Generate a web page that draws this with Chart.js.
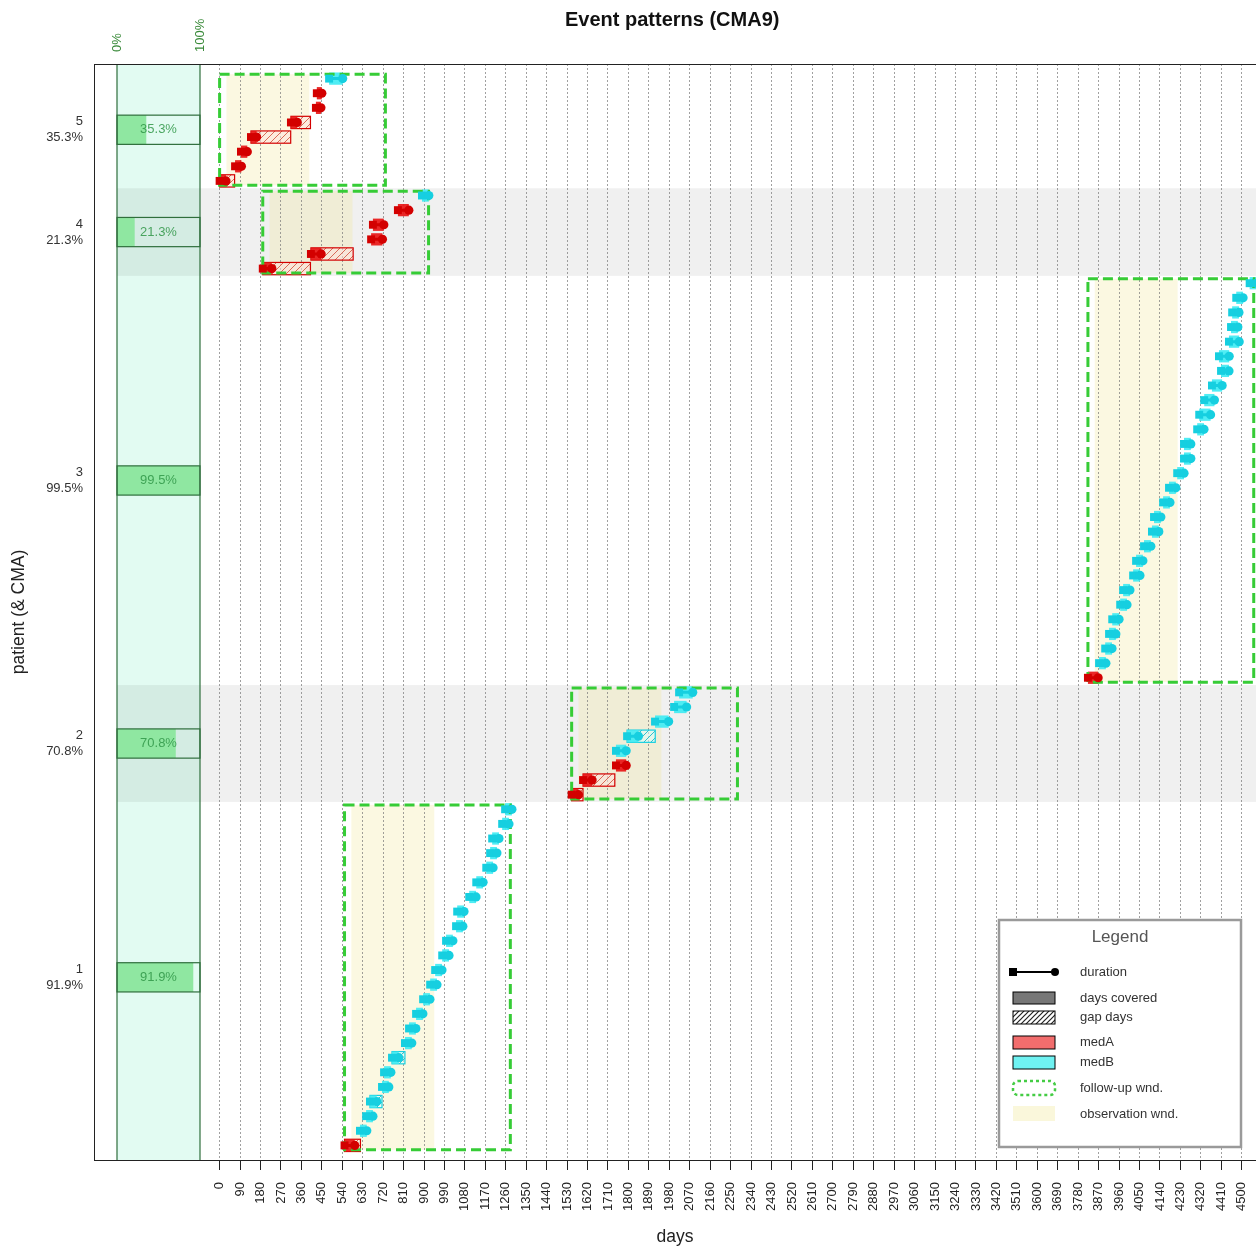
<!DOCTYPE html>
<html>
<head>
<meta charset="utf-8">
<title>Event patterns (CMA9)</title>
<script src="https://cdn.jsdelivr.net/npm/chart.js@4.4.1/dist/chart.umd.min.js"></script>
<style>
  html, body { margin: 0; padding: 0; background: #fff; }
  #wrap { width: 1256px; height: 1249px; }
</style>
</head>
<body>
<div id="wrap"><canvas id="cmaChart" width="1256" height="1249"></canvas></div>
<script>
// patients (bottom to top) and their CMA9 estimate in %
var patients = ['1', '2', '3', '4', '5'];
var cmaValues = [91.9, 70.8, 99.5, 21.3, 35.3];
var eventsPerPatient = [24, 8, 28, 6, 8];

// follow-up window start per patient (days), windows are 730 days long
var fuStart = [550, 1550, 3823, 190, 0];
var fuLength = 730;
// observation window relative to follow-up start
var obsOffset = 30;
var obsLength = 365;

// one entry per event, in plotting order (patient 1 first)
var eventStart = [
  550, 618, 645, 662, 715, 724, 759, 816, 834, 865, 896, 927, 949, 980, 997, 1041, 1046, 1099, 1130, 1174, 1191, 1200, 1244, 1257,
  1550, 1600, 1745, 1745, 1794, 1917, 2001, 2023,
  3823, 3872, 3899, 3916, 3930, 3965, 3978, 4022, 4035, 4070, 4105, 4114, 4154, 4180, 4216, 4246, 4246, 4304, 4313, 4335, 4369, 4409, 4400, 4444, 4453, 4458, 4476, 4535,
  190, 402, 667, 675, 785, 891,
  0, 68, 94, 138, 314, 424, 428, 482
];
var eventDuration = [
  45, 30, 30, 30, 30, 30, 30, 30, 30, 30, 30, 30, 30, 30, 30, 30, 30, 30, 30, 30, 30, 30, 30, 30,
  30, 40, 45, 45, 50, 60, 55, 60,
  45, 30, 30, 30, 30, 30, 30, 30, 30, 30, 30, 30, 30, 30, 30, 30, 30, 30, 50, 45, 45, 35, 45, 45, 30, 30, 30, 30,
  40, 45, 50, 48, 48, 30,
  28, 28, 28, 25, 28, 22, 22, 60
];
var eventMed = [
  'A', 'B', 'B', 'B', 'B', 'B', 'B', 'B', 'B', 'B', 'B', 'B', 'B', 'B', 'B', 'B', 'B', 'B', 'B', 'B', 'B', 'B', 'B', 'B',
  'A', 'A', 'A', 'B', 'B', 'B', 'B', 'B',
  'A', 'B', 'B', 'B', 'B', 'B', 'B', 'B', 'B', 'B', 'B', 'B', 'B', 'B', 'B', 'B', 'B', 'B', 'B', 'B', 'B', 'B', 'B', 'B', 'B', 'B', 'B', 'B',
  'A', 'A', 'A', 'A', 'A', 'B',
  'A', 'A', 'A', 'A', 'A', 'A', 'A', 'B'
];
// end of the event interval where gap days show (null = no gap)
var eventGapEnd = [
  620, null, null, 715, null, null, 816, null, null, null, null, null, null, null, null, null, null, null, null, null, null, null, null, null,
  1600, 1740, null, null, 1918, null, null, null,
  null, null, null, null, null, null, null, null, null, null, null, null, null, null, null, null, null, null, null, null, null, null, null, null, null, null, null, null,
  400, 588, null, null, null, null,
  66, null, null, 313, 400, null, null, null
];

var dayTicks = [0, 90, 180, 270, 360, 450, 540, 630, 720, 810, 900, 990, 1080, 1170, 1260, 1350, 1440, 1530, 1620, 1710,
  1800, 1890, 1980, 2070, 2160, 2250, 2340, 2430, 2520, 2610, 2700, 2790, 2880, 2970, 3060, 3150, 3240, 3330, 3420, 3510,
  3600, 3690, 3780, 3870, 3960, 4050, 4140, 4230, 4320, 4410, 4500];

var FONT = "'Liberation Sans', Arial, sans-serif";
var medLine = { A: '#d30000', B: '#16cfe0' };
var medFill = { A: 'rgba(232,22,22,0.92)', B: 'rgba(64,236,243,0.92)' };
var medHatch = { A: 'rgba(214,100,80,0.95)', B: 'rgba(40,190,205,0.95)' };
var medGapBg = { A: 'rgba(255,225,220,0.55)', B: 'rgba(220,255,255,0.55)' };

// rows
var rowFirst = [];
var totalRows = 0;
for (var p = 0; p < patients.length; p++) {
  rowFirst.push(totalRows);
  totalRows += eventsPerPatient[p];
}
var patientCenter = rowFirst.map(function (r, p) { return r + eventsPerPatient[p] / 2; });

function durationPoints(med) {
  var pts = [];
  for (var i = 0; i < eventStart.length; i++) {
    if (eventMed[i] !== med) continue;
    pts.push({ x: eventStart[i], y: i + 0.5, m: 'rect' });
    pts.push({ x: eventStart[i] + eventDuration[i], y: i + 0.5, m: 'circle' });
    pts.push({ x: eventStart[i] + eventDuration[i], y: null });
  }
  return pts;
}

function hatch(ctx, color, bg, step, width) {
  var c = document.createElement('canvas');
  c.width = step; c.height = step;
  var g = c.getContext('2d');
  if (bg) { g.fillStyle = bg; g.fillRect(0, 0, step, step); }
  g.strokeStyle = color;
  g.lineWidth = width;
  g.beginPath();
  g.moveTo(-1, step + 1); g.lineTo(step + 1, -1);
  g.moveTo(-step / 2 - 1, step / 2 + 1); g.lineTo(step / 2 + 1, -step / 2 - 1);
  g.moveTo(step / 2 - 1, step * 1.5 + 1); g.lineTo(step * 1.5 + 1, step / 2 - 1);
  g.stroke();
  return ctx.createPattern(c, 'repeat');
}

var adherePlot = {
  id: 'adherePlot',
  // the plot runs off the right edge of the picture, so stretch the area to the canvas edge
  afterLayout: function (chart) {
    var a = chart.chartArea, xs = chart.scales.x;
    if (a.right < chart.width) {
      a.right = chart.width;
      a.width = a.right - a.left;
      xs.right = chart.width;
      xs.width = xs.right - xs.left;
      xs.configure();
    }
  },
  beforeDraw: function (chart) {
    var c = chart.ctx, a = chart.chartArea, xs = chart.scales.x, ys = chart.scales.y;
    c.save();
    c.fillStyle = '#fff';
    c.fillRect(0, 0, chart.width, chart.height);

    var panelL = a.left + 23, panelR = a.left + 106;
    // CMA panel background
    c.fillStyle = '#e2fbf2';
    c.fillRect(panelL, a.top, panelR - panelL, a.bottom - a.top);

    // alternating patient bands
    for (var p = 0; p < patients.length; p++) {
      if (p % 2 === 1) {
        var yt = ys.getPixelForValue(rowFirst[p] + eventsPerPatient[p]);
        var yb = ys.getPixelForValue(rowFirst[p]);
        c.fillStyle = 'rgba(0,0,0,0.058)';
        c.fillRect(panelL, yt, a.right - panelL, yb - yt);
      }
    }
    // observation windows
    for (p = 0; p < patients.length; p++) {
      var x0 = xs.getPixelForValue(fuStart[p] + obsOffset);
      var x1 = xs.getPixelForValue(fuStart[p] + obsOffset + obsLength);
      var y0 = ys.getPixelForValue(rowFirst[p] + eventsPerPatient[p] - 0.2);
      var y1 = ys.getPixelForValue(rowFirst[p] + 0.2);
      c.fillStyle = 'rgba(240,228,140,0.26)';
      c.fillRect(x0, y0, x1 - x0, y1 - y0);
    }
    // CMA bars
    c.font = '13px ' + FONT;
    c.textAlign = 'center';
    c.textBaseline = 'middle';
    for (p = 0; p < patients.length; p++) {
      var bt = ys.getPixelForValue(patientCenter[p] + 1);
      var bb = ys.getPixelForValue(patientCenter[p] - 1);
      var w = (panelR - panelL) * cmaValues[p] / 100;
      c.fillStyle = '#8fe7a1';
      c.fillRect(panelL, bt, w, bb - bt);
      c.strokeStyle = '#2f6e3c';
      c.lineWidth = 1.2;
      c.strokeRect(panelL, bt, panelR - panelL, bb - bt);
      c.fillStyle = 'rgba(48,150,72,0.85)';
      c.fillText(cmaValues[p].toFixed(1) + '%', (panelL + panelR) / 2, (bt + bb) / 2);
    }
    // panel edges
    c.strokeStyle = '#2f6e3c';
    c.lineWidth = 1.2;
    c.beginPath();
    c.moveTo(panelL, a.top); c.lineTo(panelL, a.bottom);
    c.moveTo(panelR, a.top); c.lineTo(panelR, a.bottom);
    c.stroke();
    c.restore();
  },
  beforeDatasetsDraw: function (chart) {
    var c = chart.ctx, a = chart.chartArea, xs = chart.scales.x, ys = chart.scales.y;
    c.save();
    c.beginPath();
    c.rect(a.left, a.top, a.right - a.left, a.bottom - a.top);
    c.clip();
    var pat = { A: hatch(c, medHatch.A, medGapBg.A, 7, 1), B: hatch(c, medHatch.B, medGapBg.B, 7, 1) };
    for (var i = 0; i < eventStart.length; i++) {
      var m = eventMed[i];
      var yt = ys.getPixelForValue(i + 0.5 + 0.42);
      var yb = ys.getPixelForValue(i + 0.5 - 0.42);
      var x0 = xs.getPixelForValue(eventStart[i]);
      var x1 = xs.getPixelForValue(eventStart[i] + eventDuration[i]);
      if (eventGapEnd[i] !== null) {
        var x2 = xs.getPixelForValue(eventGapEnd[i]);
        c.fillStyle = pat[m];
        c.fillRect(x1, yt, x2 - x1, yb - yt);
        c.strokeStyle = medLine[m];
        c.lineWidth = 1.2;
        c.strokeRect(x0, yt, x2 - x0, yb - yt);
      }
      c.fillStyle = medFill[m];
      c.fillRect(x0, yt, x1 - x0, yb - yt);
    }
    // follow-up windows
    c.strokeStyle = '#36cc36';
    c.lineWidth = 3;
    c.setLineDash([10, 5]);
    for (var p = 0; p < patients.length; p++) {
      var fx0 = xs.getPixelForValue(fuStart[p]);
      var fx1 = xs.getPixelForValue(fuStart[p] + fuLength);
      var fy0 = ys.getPixelForValue(rowFirst[p] + eventsPerPatient[p] - 0.2);
      var fy1 = ys.getPixelForValue(rowFirst[p] + 0.2);
      c.strokeRect(fx0, fy0, fx1 - fx0, fy1 - fy0);
    }
    c.restore();
  },
  afterDraw: function (chart) {
    var c = chart.ctx, a = chart.chartArea;
    c.save();
    // plot frame
    c.strokeStyle = '#222';
    c.lineWidth = 1;
    c.strokeRect(a.left + 0.5, a.top + 0.5, a.right - a.left, a.bottom - a.top);

    // 0% / 100% marks above the CMA panel
    c.fillStyle = '#3a8a3a';
    c.font = '13px ' + FONT;
    c.textAlign = 'left';
    c.textBaseline = 'middle';
    [[a.left + 23, '0%'], [a.left + 106, '100%']].forEach(function (t) {
      c.save();
      c.translate(t[0], a.top - 12);
      c.rotate(-Math.PI / 2);
      c.fillText(t[1], 0, 0);
      c.restore();
    });

    // legend
    var lx = a.right - 257, ly = a.bottom - 240, lw = 242, lh = 227;
    c.fillStyle = '#fff';
    c.fillRect(lx, ly, lw, lh);
    c.strokeStyle = '#9a9a9a';
    c.lineWidth = 2.5;
    c.strokeRect(lx, ly, lw, lh);
    c.fillStyle = '#555';
    c.font = '17px ' + FONT;
    c.textAlign = 'center';
    c.fillText('Legend', lx + 121, ly + 17);

    var sx = lx + 14, sw = 42, tx = lx + 81;
    c.font = '13px ' + FONT;
    c.textAlign = 'left';
    c.fillStyle = '#333';
    c.fillText('duration', tx, ly + 52);
    c.fillText('days covered', tx, ly + 78);
    c.fillText('gap days', tx, ly + 97);
    c.fillText('medA', tx, ly + 122);
    c.fillText('medB', tx, ly + 142);
    c.fillText('follow-up wnd.', tx, ly + 168);
    c.fillText('observation wnd.', tx, ly + 194);

    c.strokeStyle = '#000';
    c.lineWidth = 2;
    c.beginPath();
    c.moveTo(sx, ly + 52); c.lineTo(sx + sw, ly + 52);
    c.stroke();
    c.fillStyle = '#000';
    c.fillRect(sx - 4, ly + 48, 8, 8);
    c.beginPath();
    c.arc(sx + sw, ly + 52, 4, 0, Math.PI * 2);
    c.fill();

    c.lineWidth = 1;
    c.fillStyle = '#777';
    c.fillRect(sx, ly + 72, sw, 12);
    c.strokeRect(sx, ly + 72, sw, 12);
    c.fillStyle = hatch(c, '#222', '#fff', 5, 1.2);
    c.fillRect(sx, ly + 91, sw, 13);
    c.strokeRect(sx, ly + 91, sw, 13);
    c.fillStyle = '#f26d6d';
    c.fillRect(sx, ly + 116, sw, 13);
    c.strokeRect(sx, ly + 116, sw, 13);
    c.fillStyle = '#6ff2f2';
    c.fillRect(sx, ly + 136, sw, 13);
    c.strokeRect(sx, ly + 136, sw, 13);

    c.strokeStyle = '#44cc44';
    c.lineWidth = 2.5;
    c.setLineDash([3, 3]);
    c.beginPath();
    c.roundRect(sx, ly + 161, sw, 14, 5);
    c.stroke();
    c.setLineDash([]);
    c.fillStyle = 'rgba(245,240,190,0.55)';
    c.fillRect(sx, ly + 186, sw, 15);
    c.restore();
  }
};

var ctx = document.getElementById('cmaChart').getContext('2d');
var cmaChart = new Chart(ctx, {
  type: 'line',
  data: {
    datasets: ['A', 'B'].map(function (med) {
      return {
        label: 'med' + med,
        data: durationPoints(med),
        borderColor: medLine[med],
        backgroundColor: medLine[med],
        borderWidth: 3,
        spanGaps: false,
        fill: false,
        tension: 0,
        pointStyle: function (c) { return c.raw && c.raw.m ? c.raw.m : 'circle'; },
        pointRadius: function (c) { return c.raw && c.raw.m === 'rect' ? 5.6 : 4.6; },
        pointBackgroundColor: medLine[med],
        pointBorderWidth: 0
      };
    })
  },
  options: {
    responsive: false,
    animation: false,
    events: [],
    layout: { padding: 0 },
    plugins: {
      legend: { display: false },
      tooltip: { enabled: false },
      title: {
        display: true,
        fullSize: false,
        text: 'Event patterns (CMA9)',
        color: '#111',
        font: { family: FONT, size: 20, weight: 'bold' },
        padding: { top: 8, bottom: 32 }
      }
    },
    scales: {
      x: {
        type: 'linear',
        min: -553,
        max: 4563,
        afterBuildTicks: function (s) { s.ticks = dayTicks.map(function (v) { return { value: v }; }); },
        afterFit: function (s) { s.height = 89; s.paddingLeft = 0; s.paddingRight = 0; },
        ticks: {
          autoSkip: false,
          minRotation: 90,
          maxRotation: 90,
          padding: 12,
          color: '#222',
          font: { family: FONT, size: 13 },
          callback: function (v) { return String(v); }
        },
        grid: {
          color: 'rgba(120,120,120,0.7)',
          lineWidth: 1,
          drawTicks: true,
          tickLength: 10,
          tickColor: '#222',
          tickWidth: 1
        },
        border: { display: false, dash: [2, 2] },
        title: {
          display: true,
          text: 'days',
          color: '#222',
          font: { family: FONT, size: 17.5 },
          padding: { top: 0, bottom: 1 }
        }
      },
      y: {
        type: 'linear',
        min: -0.5,
        max: totalRows + 0.5,
        afterBuildTicks: function (s) { s.ticks = patientCenter.map(function (v) { return { value: v }; }); },
        afterFit: function (s) { s.width = 94; s.paddingTop = 0; s.paddingBottom = 0; },
        ticks: {
          padding: 11,
          color: '#333',
          font: { family: FONT, size: 13, lineHeight: 1.25 },
          callback: function (v, i) { return [patients[i], cmaValues[i].toFixed(1) + '%']; }
        },
        grid: { display: false, drawTicks: false },
        border: { display: false },
        title: {
          display: true,
          text: 'patient (& CMA)',
          color: '#222',
          font: { family: FONT, size: 17.5 },
          padding: { top: 9, bottom: 0 }
        }
      }
    }
  },
  plugins: [adherePlot]
});
</script>
</body>
</html>
